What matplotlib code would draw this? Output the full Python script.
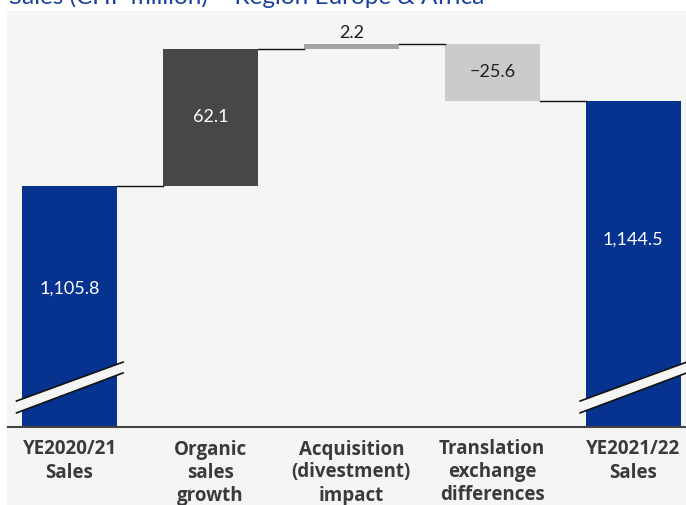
import matplotlib
matplotlib.use("Agg")
import matplotlib.pyplot as plt
import matplotlib.transforms as mtransforms
from matplotlib.patches import Rectangle, Polygon

plt.rcParams['font.family'] = ['Lato', 'DejaVu Sans']

categories = ["YE2020/21\nSales", "Organic\nsales\ngrowth", "Acquisition\n(divestment)\nimpact",
              "Translation\nexchange\ndifferences", "YE2021/22\nSales"]
start_value = 1105.8
changes = [62.1, 2.2, -25.6]
end_value = 1144.5
value_labels = ["1,105.8", "62.1", "2.2", "\u221225.6", "1,144.5"]
colors = ["#063390", "#474747", "#a3a3a3", "#cbcbcb", "#063390"]
label_colors = ["white", "white", "#1e1e1e", "#1e1e1e", "white"]

ymin, ymax = 996.6, 1185.1
W, H = 686, 505
fig = plt.figure(figsize=(W / 100, H / 100), dpi=100)
fig.patch.set_facecolor("white")
bg = "#f5f5f3"
fig.patches.append(Rectangle((7 / W, 0), 1 - 7 / W, 1 - 11 / H, transform=fig.transFigure,
                             facecolor=bg, edgecolor="none", zorder=-5))

ax = fig.add_axes([8 / W, (H - 427) / H, 678 / W, 416 / H])
ax.set_facecolor(bg)
ax.set_xlim(-0.4365, 4.375)
ax.set_ylim(ymin, ymax)
width = 0.674

# compute bars
bottoms, tops = [], []
bottoms.append(ymin); tops.append(start_value)
running = start_value
for c in changes:
    new = running + c
    bottoms.append(min(running, new)); tops.append(max(running, new))
    running = new
bottoms.append(ymin); tops.append(end_value)

xs = list(range(len(categories)))
for i, x in enumerate(xs):
    ax.bar(x, tops[i] - bottoms[i], bottom=bottoms[i], width=width, color=colors[i],
           edgecolor="none", zorder=2)

# connectors
levels = [start_value]
r = start_value
for c in changes:
    r += c
    levels.append(r)
for i in range(len(xs) - 1):
    ax.plot([xs[i] + width / 2, xs[i + 1] - width / 2], [levels[i], levels[i]],
            color="#111111", lw=1.0, zorder=3)

# value labels
for i, x in enumerate(xs):
    if i in (0, len(xs) - 1):
        y = tops[i] - 0.425 * (tops[i] - ymin)
        ax.text(x, y, value_labels[i], ha="center", va="center", color=label_colors[i], fontsize=13)
    elif abs(changes[i - 1]) > 5:
        ax.text(x, (tops[i] + bottoms[i]) / 2, value_labels[i], ha="center", va="center",
                color=label_colors[i], fontsize=13)
    else:
        ax.text(x, tops[i] + 1.2, value_labels[i], ha="center", va="bottom",
                color=label_colors[i], fontsize=13)

# break marks on the first and last bars
trans = mtransforms.blended_transform_factory(ax.transData, ax.transAxes)
for i in (0, len(xs) - 1):
    x0, x1 = xs[i] - 0.376, xs[i] + 0.38
    up0, up1 = 0.0625, 0.156
    lo0, lo1 = 0.034, 0.130
    poly = Polygon([[x0, lo0], [x1, lo1], [x1, up1], [x0, up0]], closed=True, transform=trans,
                   facecolor=bg, edgecolor="none", zorder=4, clip_on=False)
    ax.add_patch(poly)
    ax.plot([x0, x1], [up0, up1], transform=trans, color="#111111", lw=1.2, zorder=5, clip_on=False)
    ax.plot([x0, x1], [lo0, lo1], transform=trans, color="#111111", lw=1.2, zorder=5, clip_on=False)

for s in ("top", "right", "left"):
    ax.spines[s].set_visible(False)
ax.spines["bottom"].set_color("#444444")
ax.spines["bottom"].set_linewidth(1.5)
ax.spines["bottom"].set_zorder(6)
ax.set_yticks([])
ax.set_xticks(xs)
ax.set_xticklabels(categories, fontsize=13.5, fontweight="bold", color="#3a3a3a", linespacing=1.2,
                   family=["Open Sans", "DejaVu Sans"])
ax.tick_params(axis="x", length=0, pad=9)

fig.text(9 / W, 1 - 4 / H, "Sales (CHF million) \u2013 Region Europe & Africa", color="#1a3fa0",
         fontsize=17.5, ha="left", va="baseline")

fig.savefig("out.png", dpi=100, facecolor=fig.get_facecolor())
